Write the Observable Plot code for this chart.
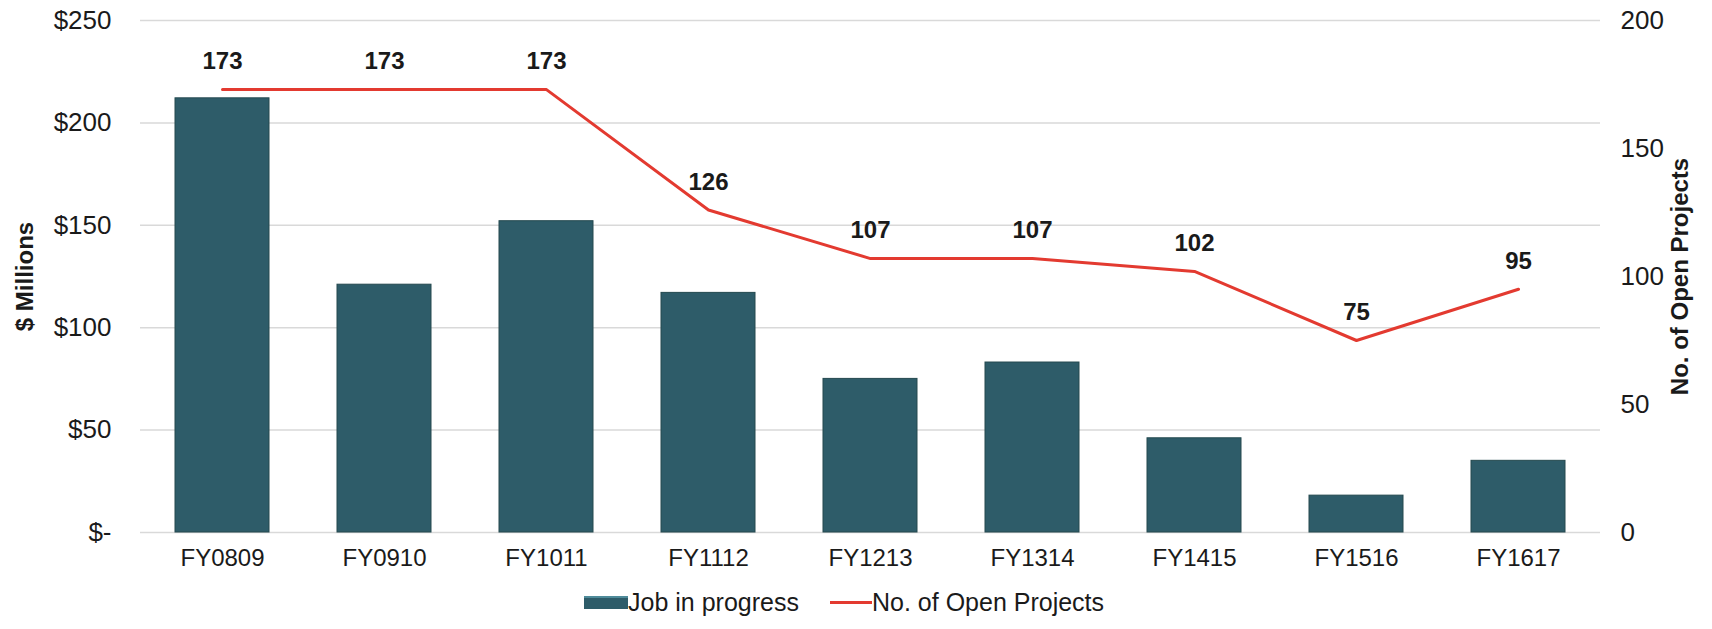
<!DOCTYPE html>
<html>
<head>
<meta charset="utf-8">
<script src="https://cdn.jsdelivr.net/npm/d3@7"></script>
<script src="https://cdn.jsdelivr.net/npm/@observablehq/plot@0.6"></script>
<style>
  html, body { margin: 0; padding: 0; background: #fff; }
  body { width: 1712px; height: 629px; overflow: hidden; font-family: "Liberation Sans", Arial, sans-serif; color: #1a1a1a; }
  #legend { position: relative; height: 40px; }
  .item { position: absolute; top: 8px; display: flex; align-items: center; font-size: 25px; line-height: 28px; }
  .sw-bar { width: 44px; height: 13px; background: #2e5c69; border-top: 2px solid #4f8b9a; box-sizing: border-box; }
  .sw-line { width: 42px; height: 3px; background: #e33a30; }
</style>
</head>
<body>
<div id="chart"></div>
<div id="legend">
  <div class="item" style="left:584px"><span class="sw-bar"></span><span>Job in progress</span></div>
  <div class="item" style="left:830px"><span class="sw-line"></span><span>No. of Open Projects</span></div>
</div>
<script>
const years = ["FY0809", "FY0910", "FY1011", "FY1112", "FY1213", "FY1314", "FY1415", "FY1516", "FY1617"];
const jobInProgress = [212, 121, 152, 117, 75, 83, 46, 18, 35];   // $ Millions
const openProjects = [173, 173, 173, 126, 107, 107, 102, 75, 95];
const leftTicks = [0, 50, 100, 150, 200, 250];
const rightTicks = [0, 50, 100, 150, 200];

const leftMax = 250, rightMax = 200;
const k = leftMax / rightMax; // map right-axis values into left-axis scale

const data = years.map((y, i) => ({year: y, job: jobInProgress[i], open: openProjects[i], openScaled: openProjects[i] * k}));

const font = "'Liberation Sans', Arial, sans-serif";

const chart = Plot.plot({
  width: 1712,
  height: 580,
  marginLeft: 140,
  marginRight: 112,
  marginTop: 20,
  marginBottom: 48,
  style: {fontFamily: font, fontSize: "24px", color: "#1a1a1a", background: "#fff"},
  x: {domain: years, paddingInner: 0.42, paddingOuter: 0.21},
  y: {domain: [0, leftMax]},
  marks: [
    Plot.gridY(leftTicks, {stroke: "#d9d9d9", strokeOpacity: 1, strokeWidth: 1.5}),
    Plot.barY(data, {x: "year", y: "job", fill: "#2e5c69", stroke: "#24494f", strokeWidth: 1}),
    Plot.barY(data, {x: "year", y1: d => d.job - 1.2, y2: "job", fill: "#4f8b9a", inset: 3}),
    Plot.lineY(data, {x: "year", y: "openScaled", stroke: "#e33a30", strokeWidth: 3}),
    Plot.text(data, {x: "year", y: "openScaled", text: d => String(d.open), dy: -28, fontWeight: "bold", fontSize: 24, fill: "#1a1a1a"}),
    Plot.axisX({tickSize: 0, tickPadding: 16, label: null, fontSize: 24}),
    Plot.axisY(leftTicks, {anchor: "left", tickSize: 0, tickPadding: 29, label: null, fontSize: 26,
      tickFormat: d => d === 0 ? "$-" : "$" + d}),
    Plot.axisY(rightTicks.map(v => v * k), {anchor: "right", tickSize: 0, tickPadding: 20, label: null, fontSize: 26,
      tickFormat: d => String(Math.round(d / k))}),
    Plot.text(["$ Millions"], {frameAnchor: "left", textAnchor: "middle", rotate: -90, dx: -115, fontWeight: "bold", fontSize: 24, fill: "#1a1a1a"}),
    Plot.text(["No. of Open Projects"], {frameAnchor: "right", textAnchor: "middle", rotate: -90, dx: 80, fontWeight: "bold", fontSize: 24, fill: "#1a1a1a"})
  ]
});
document.getElementById("chart").appendChild(chart);
</script>
</body>
</html>
